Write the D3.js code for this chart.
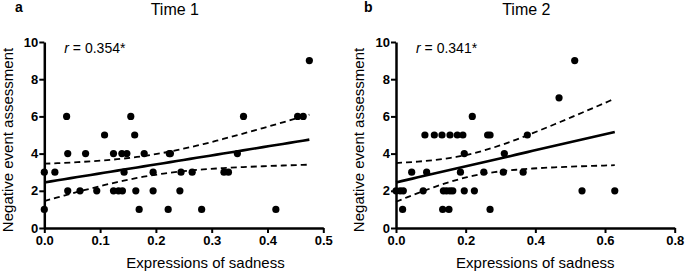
<!DOCTYPE html>
<html>

<head>
    <meta charset="utf-8">
    <title>Sadness vs negative event assessment</title>
    <script type="text/javascript" src="https://d3js.org/d3.v7.min.js"></script>
    <style>
        body {
            margin: 0;
            background: #fff;
        }

        svg {
            display: block;
            font-family: "Liberation Sans", Arial, Helvetica, sans-serif;
        }
    </style>
</head>

<body>
</body>

<script type="text/javascript">
    var w = 685;
    var h = 274;

    // Time 1 points
    var t1Sadness = [0.040, 0.155, 0.357, 0.454, 0.464,
        0.475,
        0.108, 0.162,
        0.042, 0.074, 0.124, 0.139, 0.148, 0.179, 0.224, 0.226, 0.346,
        0.0, 0.019, 0.143, 0.195, 0.245, 0.265, 0.322, 0.330,
        0.042, 0.064, 0.094, 0.124, 0.133, 0.140, 0.164, 0.195, 0.243,
        0.0, 0.170, 0.222, 0.282, 0.415];
    var t1Negative = [6, 6, 6, 6, 6,
        9,
        5, 5,
        4, 4, 4, 4, 4, 4, 4, 4, 4,
        3, 3, 3, 3, 3, 3, 3, 3,
        2, 2, 2, 2, 2, 2, 2, 2, 2,
        1, 1, 1, 1, 1];

    // Time 2 points
    var t2Sadness = [0.513, 0.468, 0.219,
        0.083, 0.110, 0.132, 0.155, 0.176, 0.192, 0.263, 0.270, 0.377,
        0.196, 0.311,
        0.045, 0.088, 0.185, 0.252, 0.308, 0.365,
        0.0, 0.012, 0.021, 0.078, 0.136, 0.145, 0.155, 0.163, 0.196, 0.225, 0.534, 0.628,
        0.019, 0.134, 0.152, 0.270];
    var t2Negative = [9, 7, 6,
        5, 5, 5, 5, 5, 5, 5, 5, 5,
        4, 4,
        3, 3, 3, 3, 3, 3,
        2, 2, 2, 2, 2, 2, 2, 2, 2, 2, 2, 2,
        1, 1, 1, 1];

    var yTicks = [0, 2, 4, 6, 8, 10];
    var t1XTicks = [0, 0.1, 0.2, 0.3, 0.4, 0.5];
    var t2XTicks = [0, 0.2, 0.4, 0.6, 0.8];

    var svg = d3.select("body").append("svg").attr("width", w).attr("height", h);

    // least squares fit with 95% confidence band of the mean
    function fit(xs, ys) {
        var n = xs.length;
        var mx = d3.mean(xs), my = d3.mean(ys);
        var sxx = d3.sum(xs, function(x) { return (x - mx) * (x - mx); });
        var sxy = d3.sum(xs, function(x, i) { return (x - mx) * (ys[i] - my); });
        var b = sxy / sxx;
        var a = my - b * mx;
        var sse = d3.sum(xs, function(x, i) { var e = ys[i] - (a + b * x); return e * e; });
        var s = Math.sqrt(sse / (n - 2));
        var t = 2.03;
        var xmax = d3.max(xs);
        var pts = d3.range(0, 41).map(function(k) {
            var x = xmax * k / 40;
            var yh = a + b * x;
            var se = s * Math.sqrt(1 / n + (x - mx) * (x - mx) / sxx);
            return { x: x, y: yh, lo: yh - t * se, hi: yh + t * se };
        });
        return pts;
    }

    function drawPanel(opt) {
        var g = svg.append("g");

        var xScale = d3.scaleLinear().domain(opt.xDomain).range([opt.left, opt.right]);
        var yScale = d3.scaleLinear().domain([0, 10]).range([228, 42]);

        var xAxis = g.append("g")
            .attr("transform", "translate(0," + yScale(0) + ")")
            .call(d3.axisBottom(xScale).tickValues(opt.xTicks).tickFormat(d3.format(".1f"))
                .tickSize(5).tickSizeOuter(0).tickPadding(3));
        var yAxis = g.append("g")
            .attr("transform", "translate(" + xScale(0) + ",0)")
            .call(d3.axisLeft(yScale).tickValues(yTicks).tickSize(5).tickSizeOuter(0).tickPadding(1));

        [xAxis, yAxis].forEach(function(ax) {
            ax.select(".domain").attr("stroke", "#000").attr("stroke-width", 2.5);
            ax.selectAll(".tick line").attr("stroke", "#000").attr("stroke-width", 2);
            ax.selectAll(".tick text")
                .attr("fill", "#000")
                .style("font-size", "13px")
                .style("font-weight", "bold")
                .style("font-family", "'Liberation Sans', Arial, sans-serif");
        });

        var pts = fit(opt.xs, opt.ys);

        var line = function(key) {
            return d3.line()
                .x(function(d) { return xScale(d.x); })
                .y(function(d) { return yScale(d[key]); });
        };

        g.append("path").datum(pts).attr("d", line("hi"))
            .attr("fill", "none").attr("stroke", "#000").attr("stroke-width", 1.8)
            .attr("stroke-dasharray", "6,4");
        g.append("path").datum(pts).attr("d", line("lo"))
            .attr("fill", "none").attr("stroke", "#000").attr("stroke-width", 1.8)
            .attr("stroke-dasharray", "6,4");
        g.append("path").datum(pts).attr("d", line("y"))
            .attr("fill", "none").attr("stroke", "#000").attr("stroke-width", 2.6);

        g.selectAll("circle")
            .data(opt.xs)
            .enter()
            .append("circle")
            .attr("cx", function(d) { return xScale(d); })
            .attr("cy", function(d, i) { return yScale(opt.ys[i]); })
            .attr("r", 3.6)
            .attr("fill", "#000");

        // panel letter, title, r value
        g.append("text").attr("x", opt.letterX).attr("y", 12)
            .style("font-size", "14px").style("font-weight", "bold").text(opt.letter);
        g.append("text").attr("x", (opt.left + opt.right) / 2 - 9).attr("y", 15)
            .attr("text-anchor", "middle").style("font-size", "16px").text(opt.title);

        var r = g.append("text").attr("x", opt.left + 20).attr("y", 53).style("font-size", "14px");
        r.append("tspan").style("font-style", "italic").text("r");
        r.append("tspan").text(" = " + opt.rText);

        // axis titles
        g.append("text").attr("x", opt.xLabelX).attr("y", 268)
            .attr("text-anchor", "middle").style("font-size", "15px").text("Expressions of sadness");
        g.append("text")
            .attr("transform", "translate(" + opt.yLabelX + ",140) rotate(-90)")
            .attr("text-anchor", "middle").style("font-size", "15px").text("Negative event assessment");
    }

    drawPanel({
        xs: t1Sadness, ys: t1Negative, xDomain: [0, 0.5], xTicks: t1XTicks,
        left: 44.3, right: 323.3, letter: "a", letterX: 15, title: "Time 1",
        rText: "0.354*", xLabelX: 205.5, yLabelX: 13
    });

    drawPanel({
        xs: t2Sadness, ys: t2Negative, xDomain: [0, 0.8], xTicks: t2XTicks,
        left: 396, right: 674.7, letter: "b", letterX: 364, title: "Time 2",
        rText: "0.341*", xLabelX: 535.3, yLabelX: 364
    });
</script>
</html>
